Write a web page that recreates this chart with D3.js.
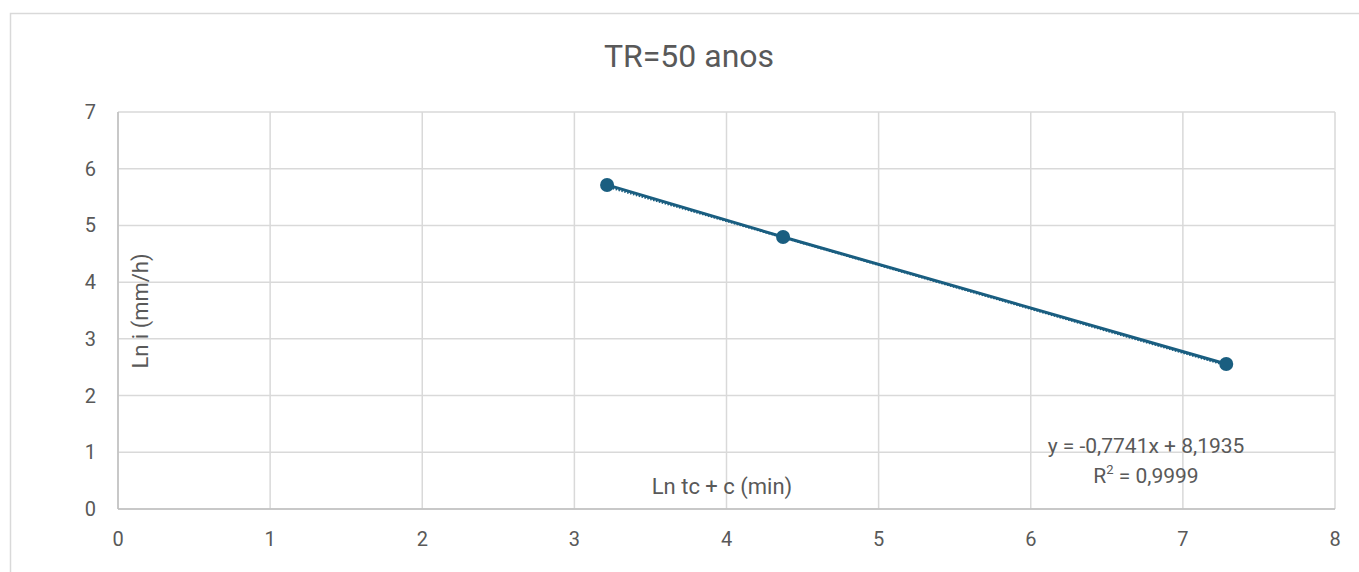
<!DOCTYPE html>
<html><head><meta charset="utf-8">
<script src="https://cdn.jsdelivr.net/npm/d3@7"></script>
<style>body{margin:0;background:#fff;}svg{display:block;font-family:Roboto,"Liberation Sans",sans-serif;}</style>
</head><body><svg id="c" width="1359" height="572"></svg>
<script>
const title = "TR=50 anos";
const xValues = [3.215, 4.372, 7.285];
const yValues = [5.714, 4.797, 2.557];
const slope = -0.7741, intercept = 8.1935;
const xTicks = [0,1,2,3,4,5,6,7,8];
const yTicks = [0,1,2,3,4,5,6,7];
const xTitle = "Ln tc + c (min)";
const yTitle = "Ln i (mm/h)";
const eqText = "y = -0,7741x + 8,1935";
const r2Text = " = 0,9999";

const svg = d3.select("#c");
svg.append("rect").attr("x",10.5).attr("y",13.5).attr("width",1360).attr("height",600)
  .attr("fill","#fff").attr("stroke","#d9d9d9").attr("stroke-width",1.5);

const x = d3.scaleLinear().domain([0,8]).range([118,1335]);
const y = d3.scaleLinear().domain([0,7]).range([509,112]);

svg.append("g").selectAll("line").data(xTicks).join("line")
  .attr("x1",d=>x(d)).attr("x2",d=>x(d)).attr("y1",y(0)).attr("y2",y(7))
  .attr("stroke","#d9d9d9").attr("stroke-width",1.5);
svg.append("g").selectAll("line").data(yTicks).join("line")
  .attr("y1",d=>y(d)).attr("y2",d=>y(d)).attr("x1",x(0)).attr("x2",x(8))
  .attr("stroke","#d9d9d9").attr("stroke-width",1.5);
svg.append("line").attr("x1",x(0)).attr("x2",x(0)).attr("y1",y(0)).attr("y2",y(7)).attr("stroke","#bfbfbf").attr("stroke-width",1.5);
svg.append("line").attr("x1",x(0)).attr("x2",x(8)).attr("y1",y(0)).attr("y2",y(0)).attr("stroke","#bfbfbf").attr("stroke-width",1.5);

svg.append("g").selectAll("text").data(xTicks).join("text")
  .attr("x",d=>x(d)).attr("y",546).attr("text-anchor","middle")
  .attr("font-size",20).attr("fill","#595959").text(d=>d);
svg.append("g").selectAll("text").data(yTicks).join("text")
  .attr("x",96).attr("y",d=>y(d)+7).attr("text-anchor","end")
  .attr("font-size",20).attr("fill","#595959").text(d=>d);

svg.append("text").attr("x",689).attr("y",67).attr("text-anchor","middle")
  .attr("font-size",32).attr("fill","#595959").text(title);
svg.append("text").attr("x",722).attr("y",494).attr("text-anchor","middle")
  .attr("font-size",22).attr("fill","#595959").text(xTitle);
svg.append("text").attr("transform","translate(148,311) rotate(-90)").attr("text-anchor","middle")
  .attr("font-size",22).attr("fill","#595959").text(yTitle);

const pts = xValues.map((v,i)=>[v,yValues[i]]);
const color = "#1a5e80";
svg.append("path").datum(pts).attr("d",d3.line().x(d=>x(d[0])).y(d=>y(d[1])))
  .attr("fill","none").attr("stroke",color).attr("stroke-width",3);
const xr = d3.extent(xValues);
svg.append("path").datum(xr.map(v=>[v,slope*v+intercept]))
  .attr("d",d3.line().x(d=>x(d[0])).y(d=>y(d[1])))
  .attr("fill","none").attr("stroke",color).attr("stroke-width",2.5).attr("stroke-dasharray","1.5,1.5")
  .attr("transform","translate(0,1)");
svg.append("g").selectAll("circle").data(pts).join("circle")
  .attr("cx",d=>x(d[0])).attr("cy",d=>y(d[1])).attr("r",7).attr("fill",color);

svg.append("text").attr("x",1146).attr("y",453).attr("text-anchor","middle")
  .attr("font-size",21).attr("fill","#595959").text(eqText);
const r2 = svg.append("text").attr("x",1146).attr("y",483).attr("text-anchor","middle")
  .attr("font-size",21).attr("fill","#595959");
r2.append("tspan").text("R");
r2.append("tspan").attr("font-size",13).attr("dy",-9).text("2");
r2.append("tspan").attr("dy",9).text(r2Text);
</script></body></html>
